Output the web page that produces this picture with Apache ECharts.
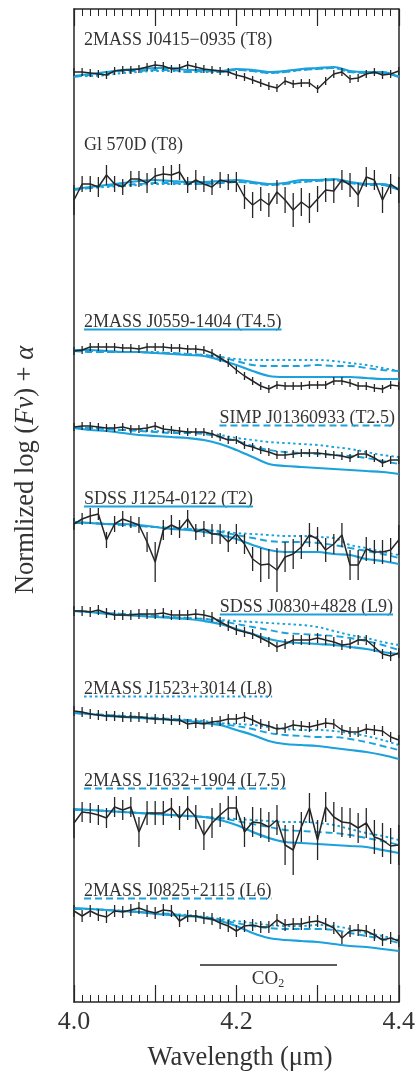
<!DOCTYPE html>
<html>
<head>
<meta charset="utf-8">
<script src="https://cdn.jsdelivr.net/npm/echarts@6/dist/echarts.min.js"></script>
<style>
  html, body { margin: 0; padding: 0; background: #fff; }
  #main { width: 418px; height: 1081px; }
</style>
</head>
<body>
<div id="main"></div>
<script>
// wavelength grids (micron)
const wlObs = [4.00,4.01,4.02,4.03,4.04,4.05,4.06,4.07,4.08,4.09,4.10,4.11,4.12,4.13,4.14,4.15,4.16,4.17,4.18,4.19,4.20,
  4.21,4.22,4.23,4.24,4.25,4.26,4.27,4.28,4.29,4.30,4.31,4.32,4.33,4.34,4.35,4.36,4.37,4.38,4.39,4.40];
const wlModel = [4.00,4.02,4.04,4.06,4.08,4.10,4.12,4.14,4.16,4.18,4.20,4.22,4.24,4.26,4.28,4.30,4.32,4.34,4.36,4.38,4.40];

// object names, top to bottom
const names = ['2MASS J0415\u22120935 (T8)', 'Gl 570D (T8)', '2MASS J0559-1404 (T4.5)', 'SIMP J01360933 (T2.5)',
  'SDSS J1254-0122 (T2)', 'SDSS J0830+4828 (L9)', '2MASS J1523+3014 (L8)', '2MASS J1632+1904 (L7.5)', '2MASS J0825+2115 (L6)'];
// offset alpha of each spectrum
const offsets = [9.29, 8.15, 6.53, 5.75, 4.80, 3.91, 2.90, 1.92, 0.93];

// observed spectra, relative to offset (units of 0.01)
const obs1 = [1,1,0,-1,-2,2,3,3,4,6,8,7,4,5,8,6,4,3,2,1,-2,-4,-7,-10,-13,-15,-8,-11,-10,-10,-16,-8,-1,1,-6,-5,-1,1,-2,-1,2];
const obs2 = [-13,3,3,0,12,3,0,8,8,4,11,13,12,15,2,7,3,0,7,5,5,-10,-18,-12,-18,-5,-13,-23,-15,-21,-12,-3,-4,7,2,-8,10,7,-13,3,-3];
const obs3 = [-2,-1,2,2,2,2,1,1,0,2,2,2,1,1,0,0,-1,-4,-9,-14,-21,-27,-32,-37,-40,-36,-37,-37,-37,-36,-36,-36,-32,-32,-34,-37,-37,-39,-40,-36,-37];
const obs4 = [0,1,1,0,-1,-1,0,-2,-2,-1,1,-2,-3,-4,-5,-5,-5,-7,-10,-13,-13,-18,-20,-23,-25,-28,-28,-27,-26,-26,-26,-27,-28,-29,-31,-27,-27,-31,-36,-33,-33];
const obs5 = [-2,3,6,8,-18,-2,3,0,-3,-20,-40,-8,-3,-7,3,-10,-7,-12,-12,-20,-12,-22,-37,-43,-42,-48,-35,-32,-25,-13,-17,-28,-22,-13,-43,-43,-27,-30,-30,-28,-18];
const obs6 = [0,0,-1,1,-2,-4,-4,-4,-3,-3,-3,-2,-4,-4,-4,-3,-4,-6,-11,-15,-19,-21,-23,-27,-31,-36,-33,-29,-29,-29,-27,-29,-31,-34,-33,-29,-29,-36,-43,-45,-42];
const obs7 = [1,0,-2,-3,-4,-4,-5,-5,-5,-6,-7,-7,-8,-8,-12,-11,-12,-10,-9,-7,-7,-5,-8,-12,-14,-17,-16,-13,-14,-15,-13,-11,-12,-18,-20,-20,-17,-18,-19,-25,-28];
const obs8 = [-13,-2,-3,-5,-8,3,0,3,-22,-3,-3,-3,2,-8,2,-7,-25,-13,-5,2,2,-22,-12,-13,-17,-10,-35,-40,-17,2,-30,3,-7,-12,-13,-18,-13,-27,-30,-36,-35];
const obs9 = [-2,-7,-2,-6,-8,-2,-3,-1,1,-2,-4,-1,-2,-12,-7,-7,-9,-10,-14,-17,-22,-17,-16,-18,-18,-11,-16,-15,-15,-13,-12,-15,-19,-29,-22,-21,-22,-26,-31,-29,-32];

// error bar half-lengths (same units)
const err1 = 4, err3 = 4, err4 = 4, err6 = 5, err7 = 5, err9 = 6;
const err2 = [15,8,8,10,10,8,8,8,8,10,8,8,10,8,8,10,8,8,8,8,10,12,13,12,12,12,13,17,14,15,13,12,12,10,12,12,10,10,13,10,13];
const err5 = [6,6,8,6,8,8,8,6,8,10,20,10,10,9,9,8,8,10,10,10,10,10,12,17,15,22,15,15,12,12,12,12,10,12,15,15,12,12,12,12,15];
const err8 = [15,10,10,10,10,10,10,10,15,12,12,12,10,12,12,12,15,15,12,12,12,15,15,15,15,15,20,25,15,15,20,15,15,15,15,15,15,17,17,18,20];

// model spectra (solid / dashed / dotted), relative to offset
const solid1 = [-3,-1,1,3,4,5,5,3,3,2,4,3,1,2,4,5,6,2,1,1,-4];
const dash1  = [-4,-2,0,2,2,3,3,1,2,1,3,2,0,1,3,4,5,1,0,0,-4];
const dot1   = [-3,-3,-2,0,1,2,2,1,1,1,3,2,0,1,3,4,5,1,1,0,-3];
const solid2 = [-2,0,2,4,6,7,6,5,5,6,7,5,3,4,7,7,8,5,3,3,-2];
const dash2  = [-3,-1,1,2,3,4,4,3,3,4,5,4,2,3,5,6,7,4,2,2,-3];
const dot2   = [-2,-1,0,1,2,3,3,3,3,4,5,4,2,3,5,6,7,4,3,2,-2];
const solid3 = [-1,-1,-2,-3,-3,-4,-5,-6,-7,-11,-16,-22,-27,-28,-28,-28,-28,-28,-29,-30,-30];
const dash3  = [-2,-3,-3,-3,-3,-4,-4,-5,-6,-8,-12,-16,-17,-17,-17,-16,-17,-17,-19,-21,-22];
const dot3   = [-2,-2,-3,-3,-3,-3,-4,-5,-6,-8,-10,-11,-11,-11,-11,-11,-12,-14,-16,-19,-22];
const solid4 = [-1,-3,-4,-6,-8,-9,-10,-11,-13,-17,-23,-30,-37,-39,-40,-41,-42,-43,-44,-45,-47];
const dash4  = [-1,-1,-2,-3,-4,-5,-6,-6,-7,-10,-14,-19,-23,-25,-26,-27,-28,-29,-31,-34,-37];
const dot4   = [-1,-1,-2,-3,-3,-4,-5,-5,-6,-8,-11,-13,-15,-16,-17,-18,-20,-22,-25,-28,-30];
const solid5 = [0,-1,-2,-2,-3,-5,-7,-8,-10,-13,-17,-23,-28,-30,-30,-30,-32,-33,-37,-39,-42];
const dash5  = [-1,-1,-2,-3,-4,-5,-6,-7,-8,-10,-13,-16,-19,-20,-20,-21,-23,-26,-29,-32,-36];
const dot5   = [-1,-1,-2,-3,-4,-5,-6,-7,-8,-9,-11,-12,-13,-14,-14,-15,-16,-23,-26,-30,-33];
const solid6 = [0,-1,-3,-4,-5,-6,-7,-8,-10,-13,-18,-23,-28,-31,-32,-33,-34,-36,-38,-41,-43];
const dash6  = [0,-1,-2,-3,-4,-5,-6,-7,-8,-10,-13,-16,-19,-22,-23,-24,-25,-27,-30,-34,-39];
const dot6   = [0,-1,-2,-3,-4,-5,-6,-7,-8,-9,-10,-11,-12,-13,-14,-16,-20,-24,-27,-31,-34];
const solid7 = [-1,-2,-4,-5,-6,-7,-8,-9,-11,-13,-18,-23,-29,-32,-33,-34,-36,-38,-40,-43,-47];
const dash7  = [-1,-2,-3,-4,-5,-6,-7,-8,-10,-12,-14,-17,-21,-23,-24,-25,-25,-27,-30,-34,-38];
const dot7   = [-1,-2,-3,-4,-5,-6,-7,-8,-9,-11,-12,-13,-15,-17,-18,-18,-19,-21,-24,-28,-33];
const solid8 = [1,0,-1,-2,-3,-4,-5,-6,-7,-10,-15,-22,-28,-32,-33,-34,-35,-36,-37,-40,-43];
const dash8  = [0,0,-1,-2,-3,-4,-5,-6,-7,-8,-11,-14,-17,-20,-21,-22,-23,-25,-28,-31,-35];
const dot8   = [0,0,-1,-2,-3,-4,-5,-6,-7,-8,-9,-10,-11,-12,-12,-13,-15,-19,-23,-26,-30];
const solid9 = [1,0,-1,-2,-3,-5,-6,-7,-9,-12,-17,-24,-29,-31,-32,-33,-35,-37,-38,-40,-42];
const dash9  = [0,0,-1,-2,-3,-4,-5,-7,-8,-11,-14,-17,-19,-20,-20,-20,-21,-24,-27,-30,-34];
const dot9   = [0,0,-1,-2,-3,-4,-5,-6,-8,-10,-12,-14,-16,-17,-17,-16,-17,-20,-24,-27,-31];

const obsList = [obs1, obs2, obs3, obs4, obs5, obs6, obs7, obs8, obs9];
const errList = [err1, err2, err3, err4, err5, err6, err7, err8, err9];
const solidList = [solid1, solid2, solid3, solid4, solid5, solid6, solid7, solid8, solid9];
const dashList = [dash1, dash2, dash3, dash4, dash5, dash6, dash7, dash8, dash9];
const dotList = [dot1, dot2, dot3, dot4, dot5, dot6, dot7, dot8, dot9];

const BLUE = '#1ba2dc';
const INK = '#262626';
const SERIF = '"Liberation Serif", "Times New Roman", serif';
const LABEL_FONT = '18px ' + SERIF;

// label placement: x, y (middle), align, underline style (null / solid / dashed / dotted)
const labelLayout = [
  { x: 84, y: 40, align: 'left', ul: null },
  { x: 84, y: 145, align: 'left', ul: null },
  { x: 84, y: 322, align: 'left', ul: 'solid' },
  { x: 395, y: 418, align: 'right', ul: 'dashed' },
  { x: 84, y: 499, align: 'left', ul: 'solid' },
  { x: 393, y: 607, align: 'right', ul: 'solid' },
  { x: 84, y: 689, align: 'left', ul: 'dotted' },
  { x: 84, y: 781, align: 'left', ul: 'dashed' },
  { x: 84, y: 891, align: 'left', ul: 'dashed' }
];

const chart = echarts.init(document.getElementById('main'));

const series = [];
obsList.forEach((obs, k) => {
  const off = offsets[k];
  const models = [[solidList[k], 'solid', 2.2], [dashList[k], [7, 4], 1.9], [dotList[k], [2.5, 3], 1.9]];
  models.forEach(([arr, type, w]) => {
    series.push({
      type: 'line', symbol: 'none', smooth: 0.35, silent: true, z: 2,
      data: wlModel.map((x, i) => [x, off + arr[i] / 100]),
      lineStyle: { color: BLUE, width: w, type: type }
    });
  });
  series.push({
    type: 'line', symbol: 'none', silent: true, z: 4,
    data: wlObs.map((x, i) => [x, off + obs[i] / 100]),
    lineStyle: { color: INK, width: 1.5 }
  });
  const e = errList[k];
  series.push({
    type: 'custom', silent: true, z: 4,
    data: wlObs.map((x, i) => {
      const h = Array.isArray(e) ? e[i] : e;
      const y = off + obs[i] / 100;
      return [x, y - h / 100, y + h / 100];
    }),
    encode: { x: 0, y: [1, 2] },
    renderItem: (params, api) => {
      const lo = api.coord([api.value(0), api.value(1)]);
      const hi = api.coord([api.value(0), api.value(2)]);
      return {
        type: 'line',
        shape: { x1: lo[0], y1: lo[1], x2: hi[0], y2: hi[1] },
        style: { stroke: INK, lineWidth: 1.3 }
      };
    }
  });
});

// labels with their model-style underlines
const ctx = document.createElement('canvas').getContext('2d');
ctx.font = LABEL_FONT;
const graphics = [];
names.forEach((name, k) => {
  const L = labelLayout[k];
  const w = ctx.measureText(name).width;
  const x0 = L.align === 'left' ? L.x : L.x - w;
  graphics.push({
    type: 'text', x: x0, y: L.y, silent: true,
    style: { text: name, font: LABEL_FONT, fill: '#333', verticalAlign: 'middle' }
  });
  if (L.ul) {
    graphics.push({
      type: 'line', silent: true,
      shape: { x1: x0, y1: L.y + 7.5, x2: x0 + w, y2: L.y + 7.5 },
      style: {
        stroke: BLUE, lineWidth: 1.9,
        lineDash: L.ul === 'dashed' ? [7, 4] : L.ul === 'dotted' ? [2.5, 3] : null
      }
    });
  }
});

// CO2 band marker
graphics.push({
  type: 'line', silent: true,
  shape: { x1: 200, y1: 965, x2: 337, y2: 965 },
  style: { stroke: INK, lineWidth: 1.3 }
});
graphics.push({
  type: 'text', silent: true, x: 268, y: 979,
  style: {
    text: '{a|CO}{s|2}', align: 'center', verticalAlign: 'middle',
    rich: {
      a: { font: '19px ' + SERIF, fill: '#333' },
      s: { font: '12px ' + SERIF, fill: '#333', padding: [9, 0, 0, 0] }
    }
  }
});

// axis titles
graphics.push({
  type: 'text', silent: true, x: 240, y: 1058,
  style: { text: 'Wavelength (\u03bcm)', font: '26.5px ' + SERIF, fill: '#333', align: 'center', verticalAlign: 'middle' }
});
graphics.push({
  type: 'text', silent: true, x: 26, y: 470, rotation: Math.PI / 2,
  style: {
    text: '{n|Normlized log (}{i|F\u03bd}{n|) + }{i|\u03b1}', align: 'center', verticalAlign: 'middle',
    rich: {
      n: { font: '26.5px ' + SERIF, fill: '#333' },
      i: { font: 'italic 26.5px ' + SERIF, fill: '#333' }
    }
  }
});

const tickAxis = (pos, labels) => ({
  type: 'value', position: pos, min: 4.0, max: 4.4, interval: 0.1,
  axisLine: { show: true, onZero: false, lineStyle: { color: INK, width: 1.5 } },
  axisTick: { show: true, inside: true, length: 17, lineStyle: { color: INK, width: 1.2 } },
  minorTick: { show: true, splitNumber: 10, length: 7, lineStyle: { color: INK, width: 1 } },
  splitLine: { show: false },
  minorSplitLine: { show: false },
  axisLabel: {
    show: labels, margin: 7, fontSize: 26, fontFamily: SERIF, color: '#333',
    showMinLabel: true, showMaxLabel: true,
    formatter: v => (Math.round(v * 10) % 2 === 0 ? v.toFixed(1) : '')
  }
});

chart.setOption({
  animation: false,
  grid: { left: 74, right: 18, top: 9, bottom: 79 },
  xAxis: [tickAxis('bottom', true), tickAxis('top', false)],
  yAxis: [
    { type: 'value', min: 0, max: 9.93, position: 'left', axisLine: { show: true, lineStyle: { color: INK, width: 1.5 } },
      axisTick: { show: false }, axisLabel: { show: false }, splitLine: { show: false } },
    { type: 'value', min: 0, max: 9.93, position: 'right', axisLine: { show: true, lineStyle: { color: INK, width: 1.5 } },
      axisTick: { show: false }, axisLabel: { show: false }, splitLine: { show: false } }
  ],
  series: series,
  graphic: graphics
});
</script>
</body>
</html>
